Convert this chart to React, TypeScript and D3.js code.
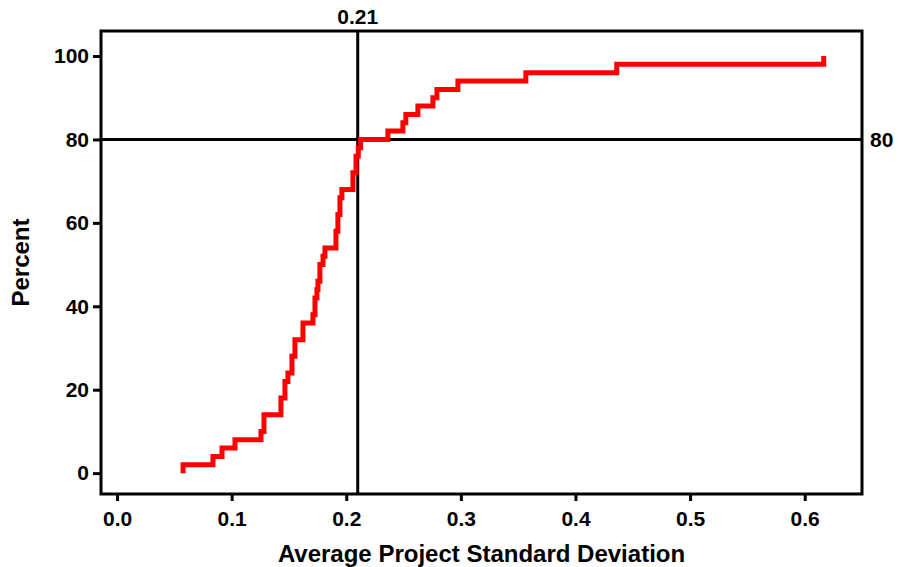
import React, { useEffect, useRef } from 'react';
import * as d3 from 'd3';

const stdDev = [
  0.0576, 0.0576, 0.0837, 0.0916, 0.1029, 0.1256, 0.1282, 0.143, 0.1465, 0.1491,
  0.1526, 0.1552, 0.1622, 0.1709, 0.1727, 0.1744, 0.1753, 0.177, 0.1797, 0.1814,
  0.191, 0.1927, 0.1945, 0.1962, 0.2058, 0.2085, 0.2105, 0.2125, 0.2363, 0.2494,
  0.252, 0.2625, 0.2756, 0.2791, 0.2974, 0.3567, 0.436, 0.6166,
];
const percent = [
  0, 2, 4, 6, 8, 10, 14, 18, 22, 24,
  28, 32, 36, 38, 42, 44, 46, 50, 52, 54,
  58, 62, 66, 68, 72, 76, 78, 80, 82, 84,
  86, 88, 90, 92, 94, 96, 98, 100,
];
const xTicks = [0, 0.1, 0.2, 0.3, 0.4, 0.5, 0.6];
const yTicks = [0, 20, 40, 60, 80, 100];
const refX = 0.21;
const refY = 80;

const W = 900;
const H = 567;
const FONT = 'Arial, "Liberation Sans", sans-serif';
const TICK_FS = 21;
const TITLE_FS = 24;

const CdfChart = () => {
  const svgRef = useRef<SVGSVGElement>(null);

  useEffect(() => {
    const margin = { top: 31, right: 38, bottom: 73, left: 101 };
    const svg = d3.select(svgRef.current);
    svg.selectAll('*').remove();

    const x = d3.scaleLinear().domain([-0.014, 0.65]).range([margin.left, W - margin.right]);
    const y = d3.scaleLinear().domain([-5, 106]).range([H - margin.bottom, margin.top]);

    // y axis ticks + labels
    const yAxis = svg.append('g')
      .attr('transform', `translate(${margin.left},0)`)
      .call(d3.axisLeft(y).tickValues(yTicks).tickSize(8).tickPadding(4).tickFormat(d3.format('d')));
    yAxis.select('.domain').remove();
    yAxis.selectAll('line').attr('stroke', '#000').attr('stroke-width', 3);
    yAxis.selectAll('text')
      .attr('fill', '#000').attr('font-size', TICK_FS).attr('font-weight', 'bold').attr('font-family', FONT);

    // x axis ticks + labels
    const xAxis = svg.append('g')
      .attr('transform', `translate(0,${H - margin.bottom})`)
      .call(d3.axisBottom(x).tickValues(xTicks).tickSize(7).tickPadding(10).tickFormat(d3.format('.1f')));
    xAxis.select('.domain').remove();
    xAxis.selectAll('line').attr('stroke', '#000').attr('stroke-width', 3);
    xAxis.selectAll('text')
      .attr('fill', '#000').attr('font-size', TICK_FS).attr('font-weight', 'bold').attr('font-family', FONT);

    // frame
    svg.append('rect')
      .attr('x', margin.left).attr('y', margin.top)
      .attr('width', W - margin.right - margin.left)
      .attr('height', H - margin.bottom - margin.top)
      .attr('fill', 'none').attr('stroke', '#000').attr('stroke-width', 3);

    // reference lines
    svg.append('line')
      .attr('x1', x(refX)).attr('x2', x(refX))
      .attr('y1', margin.top).attr('y2', H - margin.bottom)
      .attr('stroke', '#000').attr('stroke-width', 3);
    svg.append('line')
      .attr('x1', margin.left).attr('x2', W - margin.right)
      .attr('y1', y(refY)).attr('y2', y(refY))
      .attr('stroke', '#000').attr('stroke-width', 3);

    svg.append('text')
      .attr('x', x(refX)).attr('y', margin.top - 7)
      .attr('text-anchor', 'middle')
      .attr('font-size', TICK_FS).attr('font-weight', 'bold').attr('font-family', FONT)
      .text(d3.format('.2f')(refX));
    svg.append('text')
      .attr('x', W - margin.right + 8).attr('y', y(refY)).attr('dy', '0.35em')
      .attr('font-size', TICK_FS).attr('font-weight', 'bold').attr('font-family', FONT)
      .text(refY);

    // ECDF step line
    const pts = stdDev.map((v, i) => [v, percent[i]] as [number, number]);
    const line = d3.line<[number, number]>()
      .x(d => x(d[0]))
      .y(d => y(d[1]))
      .curve(d3.curveStepAfter);
    svg.append('path')
      .attr('d', line(pts))
      .attr('fill', 'none')
      .attr('stroke', '#ff0000')
      .attr('stroke-width', 5)
      .attr('stroke-linejoin', 'miter');

    // axis titles
    svg.append('text')
      .attr('x', (margin.left + W - margin.right) / 2).attr('y', 562)
      .attr('text-anchor', 'middle')
      .attr('font-size', TITLE_FS).attr('font-weight', 'bold').attr('font-family', FONT)
      .text('Average Project Standard Deviation');
    svg.append('text')
      .attr('transform', `translate(29,${(margin.top + H - margin.bottom) / 2}) rotate(-90)`)
      .attr('text-anchor', 'middle')
      .attr('font-size', TITLE_FS).attr('font-weight', 'bold').attr('font-family', FONT)
      .text('Percent');
  }, []);

  return (
    <svg ref={svgRef} width={W} height={H}
      style={{ position: 'absolute', left: 0, top: 0, background: '#fff' }} />
  );
};

export default function App() {
  return <CdfChart />;
}
